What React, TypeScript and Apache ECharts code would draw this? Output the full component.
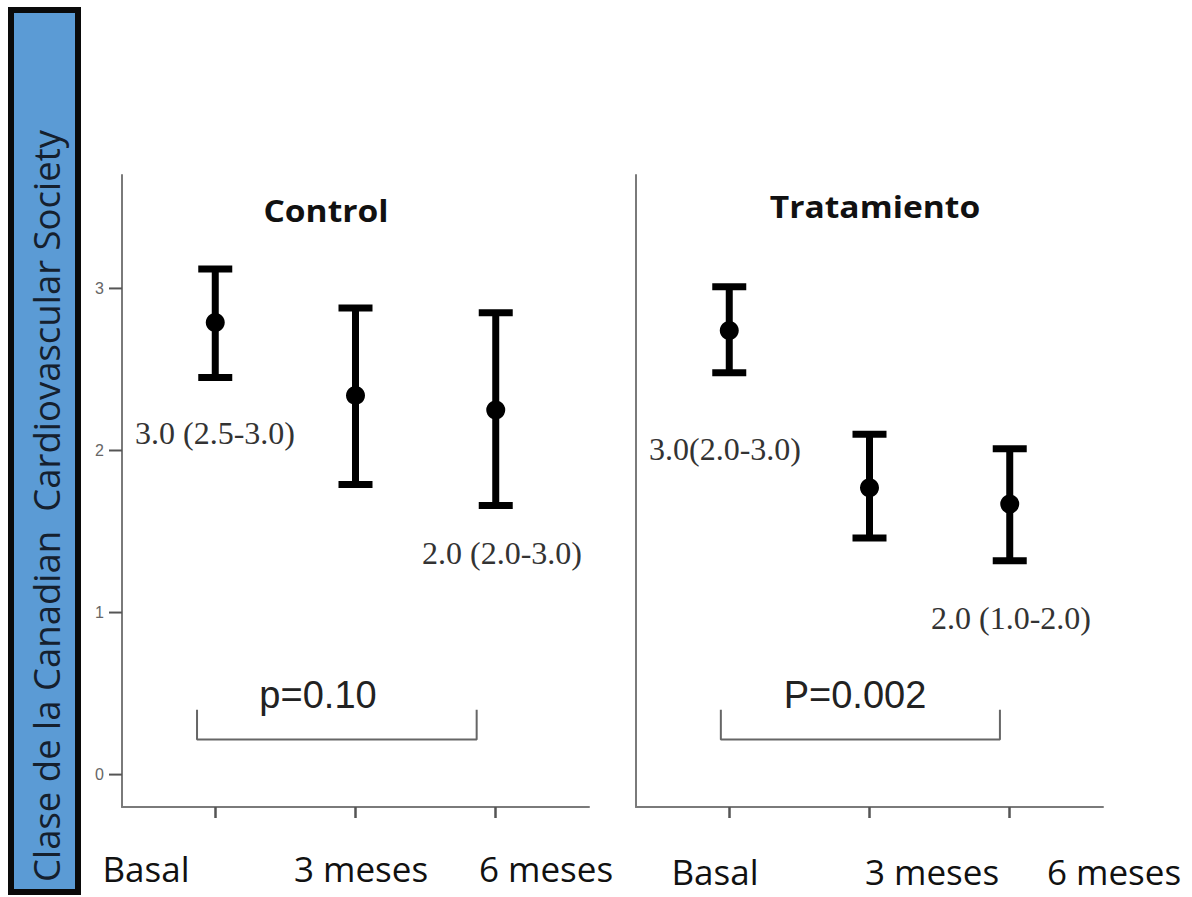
import React, { useEffect, useRef } from "react";
import * as echarts from "echarts";

const categories = ["Basal", "3 meses", "6 meses"];
const catIndex = [0, 1, 2];
const controlMean = [2.79, 2.34, 2.25];
const controlLow = [2.45, 1.79, 1.66];
const controlHigh = [3.12, 2.88, 2.85];
const tratMean = [2.74, 1.77, 1.67];
const tratLow = [2.48, 1.46, 1.32];
const tratHigh = [3.01, 2.1, 2.01];
const yTicks = [0, 1, 2, 3];
const panelTitles = ["Control", "Tratamiento"];
const medianLabels = ["3.0 (2.5-3.0)", "2.0 (2.0-3.0)", "3.0(2.0-3.0)", "2.0 (1.0-2.0)"];
const pValues = ["p=0.10", "P=0.002"];
const bracketControl = [[-0.13, 0.4], [-0.13, 0.216], [1.864, 0.216], [1.864, 0.4]];
const bracketTrat = [[-0.06, 0.4], [-0.06, 0.216], [1.93, 0.216], [1.93, 0.4]];
const yAxisTitle = "Clase de la Canadian  Cardiovascular Society";

const AXIS_GRAY = "#7a7a7a";
const X_MIN = -0.665;
const X_MAX = 2.665;

function errorBarRender(params: any, api: any) {
  const x = api.value(0);
  const lo = api.coord([x, api.value(1)]);
  const hi = api.coord([x, api.value(2)]);
  const half = 17;
  const style = { stroke: "#000", lineWidth: 7, lineCap: "butt" };
  return {
    type: "group",
    children: [
      { type: "line", shape: { x1: hi[0], y1: hi[1], x2: lo[0], y2: lo[1] }, style },
      { type: "line", shape: { x1: hi[0] - half, y1: hi[1], x2: hi[0] + half, y2: hi[1] }, style },
      { type: "line", shape: { x1: lo[0] - half, y1: lo[1], x2: lo[0] + half, y2: lo[1] }, style },
    ],
  };
}

function yTickRender(params: any, api: any) {
  const p = api.coord([X_MIN, api.value(0)]);
  return {
    type: "line",
    shape: { x1: p[0] - 13, y1: p[1], x2: p[0], y2: p[1] },
    style: { stroke: "#555", lineWidth: 2 },
  };
}

export default function App() {
  const ref = useRef<HTMLDivElement>(null);
  useEffect(() => {
    document.body.style.margin = "0";
    const chart = echarts.init(ref.current!, null, { renderer: "svg" });
    const xAxisBase = (gridIndex: number) => ({
      type: "value",
      gridIndex,
      min: X_MIN,
      max: X_MAX,
      axisLine: { show: true, onZero: false, lineStyle: { color: AXIS_GRAY, width: 2 } },
      axisTick: { show: true, inside: false, length: 11, customValues: catIndex, lineStyle: { color: "#555", width: 2.5 } },
      axisLabel: { show: false },
      splitLine: { show: false },
    });
    const yAxisBase = (gridIndex: number, withTicks: boolean) => ({
      type: "value",
      gridIndex,
      min: -0.2,
      max: 3.7,
      axisLine: { show: true, onZero: false, lineStyle: { color: AXIS_GRAY, width: 2 } },
      axisTick: { show: false },
      axisLabel: withTicks
        ? { show: true, customValues: yTicks, color: "#666", fontSize: 16, fontFamily: "Liberation Sans", margin: 18 }
        : { show: false },
      splitLine: { show: false },
    });
    const pts = (means: number[]) => catIndex.map((i) => [i, means[i]]);
    const bars = (lo: number[], hi: number[]) => catIndex.map((i) => [i, lo[i], hi[i]]);

    const labelFont = { fontFamily: "Open Sans", fontSize: 35, fill: "#111" };
    const xLabelCenters = [
      [146, 361, 546],
      [715, 932, 1114],
    ];
    const serif = { fontFamily: "Liberation Serif", fontSize: 32, fill: "#333" };
    const titleStyle = { fontFamily: "Open Sans", fontWeight: "bold", fontSize: 30, fill: "#111", align: "center", verticalAlign: "middle" };

    chart.setOption({
      animation: false,
      grid: [
        { left: 122, top: 175, width: 467, height: 632 },
        { left: 636, top: 175, width: 467, height: 632 },
      ],
      xAxis: [xAxisBase(0), xAxisBase(1)],
      yAxis: [yAxisBase(0, true), yAxisBase(1, false)],
      series: [
        { type: "custom", xAxisIndex: 0, yAxisIndex: 0, clip: false, renderItem: yTickRender, encode: { y: 0 }, data: yTicks.map((v) => [v]) },
        { type: "custom", xAxisIndex: 0, yAxisIndex: 0, renderItem: errorBarRender, data: bars(controlLow, controlHigh) },
        { type: "scatter", xAxisIndex: 0, yAxisIndex: 0, symbolSize: 19, itemStyle: { color: "#000", opacity: 1 }, data: pts(controlMean) },
        { type: "custom", xAxisIndex: 1, yAxisIndex: 1, renderItem: errorBarRender, data: bars(tratLow, tratHigh) },
        { type: "scatter", xAxisIndex: 1, yAxisIndex: 1, symbolSize: 19, itemStyle: { color: "#000", opacity: 1 }, data: pts(tratMean) },
        { type: "line", xAxisIndex: 0, yAxisIndex: 0, symbol: "none", lineStyle: { color: "#666", width: 2 }, data: bracketControl },
        { type: "line", xAxisIndex: 1, yAxisIndex: 1, symbol: "none", lineStyle: { color: "#666", width: 2 }, data: bracketTrat },
      ],
      graphic: [
        { type: "rect", shape: { x: 11, y: 10, width: 67, height: 882 }, style: { fill: "#5b9bd5", stroke: "#0a0a0a", lineWidth: 6 } },
        {
          type: "text", x: 46, y: 506, rotation: Math.PI / 2,
          style: { text: yAxisTitle, fontFamily: "Open Sans", fontSize: 36.5, fill: "#15202e", align: "center", verticalAlign: "middle" },
        },
        { type: "text", x: 326, y: 210, scaleX: 1.12, style: { ...titleStyle, text: panelTitles[0] } },
        { type: "text", x: 875, y: 206, scaleX: 1.12, style: { ...titleStyle, text: panelTitles[1] } },
        ...categories.map((c, i) => ({ type: "text", x: xLabelCenters[0][i], y: 868, style: { ...labelFont, text: c, align: "center", verticalAlign: "middle" } })),
        ...categories.map((c, i) => ({ type: "text", x: xLabelCenters[1][i], y: 871, style: { ...labelFont, text: c, align: "center", verticalAlign: "middle" } })),
        { type: "text", x: 135, y: 433, style: { ...serif, text: medianLabels[0], align: "left", verticalAlign: "middle" } },
        { type: "text", x: 422, y: 553, style: { ...serif, text: medianLabels[1], align: "left", verticalAlign: "middle" } },
        { type: "text", x: 649, y: 449, style: { ...serif, text: medianLabels[2], align: "left", verticalAlign: "middle" } },
        { type: "text", x: 931, y: 618, style: { ...serif, text: medianLabels[3], align: "left", verticalAlign: "middle" } },
        { type: "text", x: 318, y: 695, style: { text: pValues[0], fontFamily: "Liberation Sans", fontSize: 38, fill: "#222", align: "center", verticalAlign: "middle" } },
        { type: "text", x: 855, y: 695, style: { text: pValues[1], fontFamily: "Liberation Sans", fontSize: 38, fill: "#222", align: "center", verticalAlign: "middle" } },
      ],
    });
    return () => chart.dispose();
  }, []);
  return <div ref={ref} style={{ width: 1192, height: 897 }} />;
}
